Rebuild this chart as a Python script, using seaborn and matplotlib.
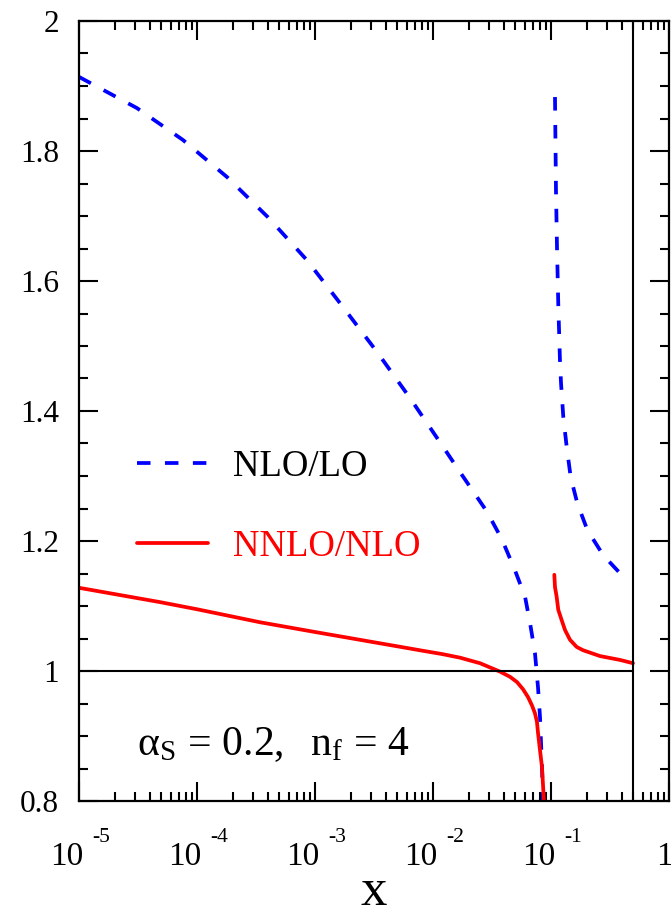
import numpy as np
import pandas as pd
import matplotlib
matplotlib.use("Agg")
import matplotlib.pyplot as plt
import matplotlib.ticker as mticker
import seaborn as sns

# ---------------- data ----------------
nlo_lo_x1 = [1.0e-5, 3.10e-5, 7.6e-5, 1.795e-4, 4.0e-4, 8.55e-4, 1.726e-3, 3.35e-3,
             6.38e-3, 1.216e-2, 1.694e-2, 2.87e-2, 3.85e-2, 4.95e-2, 6.03e-2,
             6.64e-2, 7.31e-2, 7.76e-2, 8.07e-2, 8.39e-2, 8.55e-2, 8.67e-2]
nlo_lo_y1 = [1.914, 1.866, 1.817, 1.760, 1.698, 1.632, 1.560, 1.491,
             1.420, 1.345, 1.306, 1.245, 1.202, 1.155, 1.114,
             1.074, 1.028, 0.975, 0.929, 0.852, 0.800, 0.700]
nlo_lo_x2 = [0.1081, 0.1102, 0.1124, 0.1153, 0.1191, 0.1216, 0.1271, 0.1358,
             0.1469, 0.1671, 0.2032, 0.2773, 0.410, 0.452]
nlo_lo_y2 = [1.883, 1.740, 1.652, 1.563, 1.478, 1.443, 1.391, 1.345,
             1.298, 1.258, 1.217, 1.178, 1.145, 1.140]

nnlo_nlo_x1 = [1.0e-5, 4.85e-5, 1.0e-4, 3.42e-4, 1.0e-3, 2.40e-3, 8.9e-3, 1.20e-2,
               1.694e-2, 2.50e-2, 3.70e-2, 4.50e-2, 5.15e-2, 5.79e-2, 6.38e-2,
               6.90e-2, 7.31e-2, 7.60e-2, 7.76e-2, 8.07e-2, 8.39e-2, 8.73e-2, 8.81e-2]
nnlo_nlo_y1 = [1.128, 1.106, 1.095, 1.075, 1.060, 1.048, 1.030, 1.026,
               1.0205, 1.012, 0.999, 0.991, 0.983, 0.972, 0.960,
               0.947, 0.935, 0.922, 0.905, 0.878, 0.852, 0.797, 0.750]
nnlo_nlo_x2 = [0.1067, 0.1081, 0.1117, 0.1153, 0.1233, 0.1315, 0.1449, 0.1651,
               0.1866, 0.260, 0.385, 0.495]
nnlo_nlo_y2 = [1.148, 1.129, 1.114, 1.094, 1.078, 1.063, 1.048, 1.037,
               1.032, 1.023, 1.017, 1.012]

series_labels = ["NLO/LO", "NNLO/NLO"]
x_major_ticks = [1e-5, 1e-4, 1e-3, 1e-2, 1e-1, 1.0]
x_tick_base = ["10", "10", "10", "10", "10", "1"]
x_tick_exp = ["-5", "-4", "-3", "-2", "-1", ""]
y_ticks = [0.8, 1.0, 1.2, 1.4, 1.6, 1.8, 2.0]
y_tick_labels = ["0.8", "1", "1.2", "1.4", "1.6", "1.8", "2"]
ref_y = 1.0
ref_x = 0.5
annotation = r"$\mathregular{α_S\,=\,0.2,\ \ n_f\,=\,4}$"
x_label = "x"

# ---------------- style ----------------
sns.set_theme(style="ticks")
plt.rcParams["font.family"] = ["Liberation Serif", "DejaVu Serif"]
plt.rcParams["mathtext.fontset"] = "custom"
plt.rcParams["mathtext.rm"] = "Liberation Serif"
plt.rcParams["mathtext.it"] = "Liberation Serif:italic"

DPI = 100
fig = plt.figure(figsize=(6.71, 9.10), dpi=DPI)
W, H = 671, 910
L, R, T, B = 79, 669, 21, 801
ax = fig.add_axes([L / W, 1 - B / H, (R - L) / W, (B - T) / H])

blue = "#0000ff"
red = "#ff0000"
lw = 2.7

df_b1 = pd.DataFrame({"x": nlo_lo_x1, "y": nlo_lo_y1})
df_b2 = pd.DataFrame({"x": nlo_lo_x2, "y": nlo_lo_y2})
df_r1 = pd.DataFrame({"x": nnlo_nlo_x1, "y": nnlo_nlo_y1})
df_r2 = pd.DataFrame({"x": nnlo_nlo_x2, "y": nnlo_nlo_y2})

lines_blue = []
for d in (df_b1, df_b2):
    sns.lineplot(data=d, x="x", y="y", ax=ax, color=blue, linewidth=lw,
                 sort=False, estimator=None)
    ln = ax.lines[-1]
    ln.set_dashes([3.6, 3.85])
    ln.set_dash_capstyle("butt")
    lines_blue.append(ln)
lines_red = []
for d in (df_r1, df_r2):
    sns.lineplot(data=d, x="x", y="y", ax=ax, color=red, linewidth=lw,
                 sort=False, estimator=None)
    lines_red.append(ax.lines[-1])

# reference lines
ax.plot([x_major_ticks[0], ref_x], [ref_y, ref_y], color="black", linewidth=1.5)
ax.axvline(ref_x, color="black", linewidth=1.5)

ax.set_xscale("log")
ax.set_xlim(x_major_ticks[0], x_major_ticks[-1])
ax.set_ylim(y_ticks[0], y_ticks[-1])
ax.set_xlabel("")
ax.set_ylabel("")

for s in ax.spines.values():
    s.set_linewidth(1.6)
    s.set_color("black")

ax.set_xticks(x_major_ticks)
ax.xaxis.set_minor_locator(mticker.LogLocator(base=10, subs=np.arange(2, 10), numticks=20))
ax.xaxis.set_minor_formatter(mticker.NullFormatter())
ax.set_xticklabels([])
ax.set_yticks(y_ticks)
ax.set_yticklabels(y_tick_labels)
ax.yaxis.set_minor_locator(mticker.MultipleLocator(0.05))

ax.tick_params(which="both", direction="in", top=True, right=True, color="black",
               width=1.5)
ax.tick_params(which="major", length=13.7)
ax.tick_params(which="minor", length=6.5)
ax.tick_params(axis="y", which="major", labelsize=22.5, pad=14.4, labelcolor="black")

# x tick labels: "10" with raised exponent
for xt, base, ex in zip(x_major_ticks, x_tick_base, x_tick_exp):
    ax.annotate(base, xy=(xt, 0), xycoords=("data", "axes fraction"),
                xytext=(2.9, -46.0), textcoords="offset points",
                ha="right", va="baseline", fontsize=24, color="black",
                annotation_clip=False)
    if ex:
        ax.annotate(ex, xy=(xt, 0), xycoords=("data", "axes fraction"),
                    xytext=(9.4, -29.5), textcoords="offset points",
                    ha="left", va="baseline", fontsize=15.5, color="black",
                    annotation_clip=False)

fig.text(374 / W, 1 - 905 / H, x_label, ha="center", va="baseline",
         fontsize=38, color="black")

# legend
leg = ax.legend([lines_blue[0], lines_red[0]], series_labels,
                loc="upper left", bbox_to_anchor=((137 - L) / (R - L), (B - 449) / (B - T)),
                frameon=False, fontsize=26.5, handlelength=1.92, handletextpad=0.7,
                labelspacing=1.25, borderpad=0, borderaxespad=0)
leg.get_texts()[0].set_color("black")
leg.get_texts()[1].set_color(red)

ax.text((137 - L) / (R - L), (B - 755) / (B - T), annotation, transform=ax.transAxes,
        ha="left", va="baseline", fontsize=30, color="black")

fig.savefig("out.png", dpi=DPI)
